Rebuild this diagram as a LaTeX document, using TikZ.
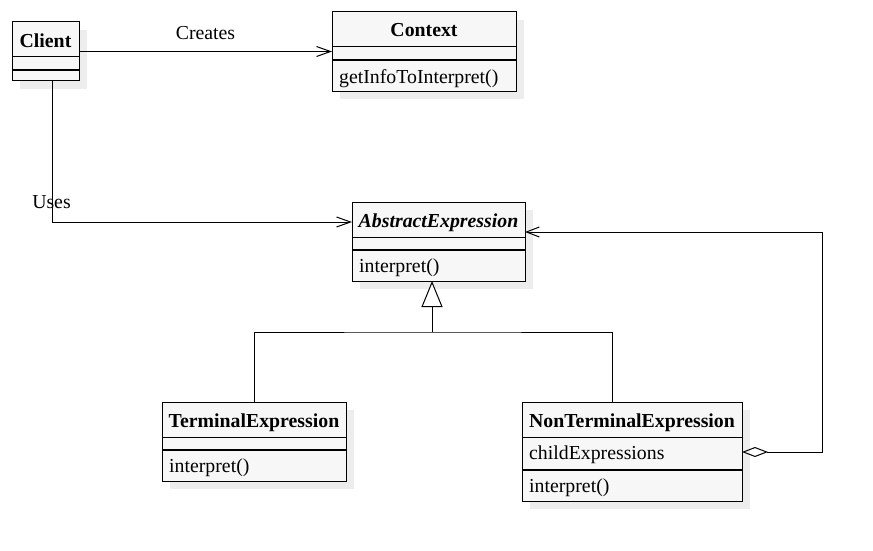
\documentclass[tikz,border=0pt]{standalone}
\usepackage{fontspec}
\setmainfont{Liberation Serif}
\usetikzlibrary{arrows.meta,shadows,calc}
\definecolor{boxfill}{HTML}{F7F7F7}
\definecolor{shadowc}{HTML}{EDEDED}
\begin{document}
\begin{tikzpicture}[x=1pt,y=-1pt,font=\fontsize{19.8}{23}\selectfont,
  cls/.style={draw,line width=1pt,fill=boxfill,inner sep=0pt,outer sep=0pt,anchor=north west,
    drop shadow={shadow xshift=8pt,shadow yshift=-8pt,fill=shadowc,opacity=1}},
  sepline/.style={line width=1pt},
  septhick/.style={line width=1.6pt},
  titletxt/.style={font=\fontsize{19.8}{23}\selectfont\bfseries,anchor=base},
  memtxt/.style={anchor=base west,inner sep=0pt},
  conn/.style={line width=1pt},
  assoc/.style={conn,-{Straight Barb[length=14pt,width=10pt]}},
  agg/.style={conn,{Diamond[open,length=26pt,width=10pt]}-{Straight Barb[length=13pt,width=10pt]}},
  inherit/.style={conn,-{Triangle[length=26pt,width=21pt,fill=white]}}]
\useasboundingbox (0,0) rectangle (873,551);

% Client
\node[cls,minimum width=67pt,minimum height=59pt] (client) at (12,22) {};
\draw[sepline] (12,57) -- (79,57);
\draw[septhick] (12,70) -- (79,70);
\node[titletxt] (clientT) at (45.5,47.5) {Client};

% Context
\node[cls,minimum width=184pt,minimum height=79pt] (context) at (332,12) {};
\draw[sepline] (332,47) -- (516,47);
\draw[septhick] (332,60) -- (516,60);
\node[titletxt] (contextT) at (424,37) {Context};
\node[memtxt] (contextM) at (339,83.5) {getInfoToInterpret()};

% AbstractExpression
\node[cls,minimum width=173pt,minimum height=79pt] (abstract) at (352,202) {};
\draw[sepline] (352,237) -- (525,237);
\draw[septhick] (352,250) -- (525,250);
\node[titletxt,font=\fontsize{19.8}{23}\selectfont\bfseries\itshape] (abstractT) at (438.5,227) {AbstractExpression};
\node[memtxt] (abstractM) at (359,272) {interpret()};

% TerminalExpression
\node[cls,minimum width=184pt,minimum height=79pt] (terminal) at (162,402) {};
\draw[sepline] (162,437) -- (346,437);
\draw[septhick] (162,450) -- (346,450);
\node[titletxt] (terminalT) at (254,427) {TerminalExpression};
\node[memtxt] (terminalM) at (169,472) {interpret()};

% NonTerminalExpression
\node[cls,minimum width=220pt,minimum height=99pt] (nonterm) at (522,402) {};
\draw[sepline] (522,437) -- (742,437);
\draw[septhick] (522,470) -- (742,470);
\node[titletxt] (nontermT) at (632,427) {NonTerminalExpression};
\node[memtxt] (nontermA) at (529,459) {childExpressions};
\node[memtxt] (nontermM) at (529,492) {interpret()};

% Connectors
\draw[assoc] (client.east) -- node[midway,above=7.5pt] (createsL) {Creates} (context.west);
\draw[assoc] ($(client.south)+(6.5,0)$) |- ($(abstract.north west)+(0,20)$);
\node[anchor=base] (usesL) at (51.5,208.5) {Uses};

\coordinate (joint) at ($(abstract.south)+(-6.5,51)$);
\draw[conn] (terminal.north) |- (joint) -| ($(nonterm.north)+(-20,0)$);
\draw[inherit] (joint) -- ($(abstract.south)+(-6.5,0)$);

\draw[agg] ($(nonterm.north east)+(0,50)$) -- ++(80,0) |- ($(abstract.north east)+(0,30)$);
\end{tikzpicture}
\end{document}
